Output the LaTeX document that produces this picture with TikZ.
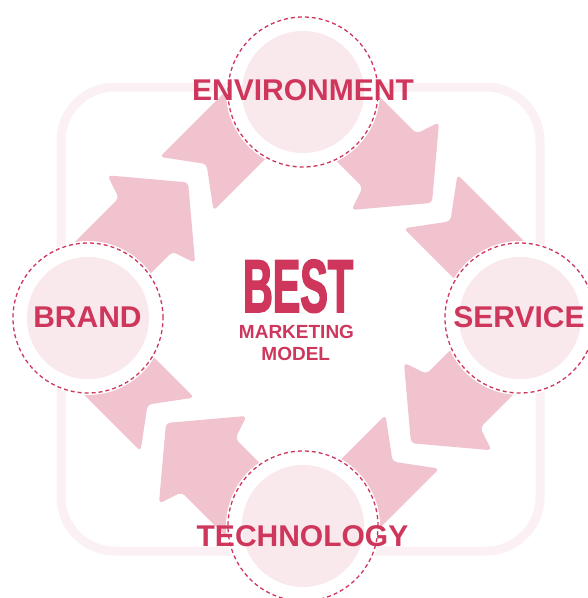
\documentclass[tikz,border=0pt]{standalone}
\usepackage{fontspec}
\setmainfont{Liberation Sans}
\newfontfamily\bestfont{Liberation Sans}[FakeStretch=0.55,FakeBold=2]
\definecolor{crimson}{HTML}{CE365C}
\definecolor{arrowpink}{HTML}{F0C3CE}
\definecolor{discpink}{HTML}{F9E8EC}
\definecolor{framepink}{HTML}{FBF0F3}

\begin{document}
\begin{tikzpicture}[x=1pt,y=1pt]
\tikzset{ inner sep=0pt, outer sep=0pt,
  arw/.style={fill=arrowpink, rounded corners=4pt},
  hub/.style={circle, minimum size=150pt, fill=white, draw=crimson, line width=1.3pt,
              dash pattern=on 4pt off 3pt, preaction={draw=white, solid, line width=4pt}},
  disc/.style={circle, minimum size=122pt, fill=discpink},
  lbl/.style={text=crimson, font=\bfseries\fontsize{30}{30}\selectfont, anchor=base},
  sub/.style={text=crimson, font=\bfseries\fontsize{19}{19}\selectfont, anchor=base,
              text height=13.6pt, text depth=0pt},
}

\useasboundingbox (0,0) rectangle (588,-598);

%\draw [lightgray, dashed](0,0) grid (588,-598);

% frame
\draw [framepink, line width=9pt, rounded corners=54pt] (61,-87) rectangle (540,-551);

% arrow tips
\coordinate (tip1) at (188.1,-182.4);
\coordinate (tip2) at (432.0,-202.9);
\coordinate (tip3) at (411.0,-443.2);
\coordinate (tip4) at (166.0,-423.0);

% brand -> environment
\fill [arw, shift={(tip1)}, rotate=45] (0,0) -- (-52,62) -- (-60,38) -- (-165,38) -- (-165,-38) -- (-60,-38) -- (-52,-62) -- cycle;
\fill [arw, shift={(tip1)}, rotate=45, xshift=-2pt] (0,38) -- (28,0) -- (0,-38) -- (147,-38) -- (147,38) -- cycle;

% environment -> service
\fill [arw, shift={(tip2)}, rotate=-45] (0,0) -- (-52,62) -- (-60,38) -- (-170,38) -- (-170,-38) -- (-60,-38) -- (-52,-62) -- cycle;
\fill [arw, shift={(tip2)}, rotate=-45, xshift=-2pt] (0,38) -- (28,0) -- (0,-38) -- (146,-38) -- (146,38) -- cycle;

% service -> technology
\fill [arw, shift={(tip3)}, rotate=-135] (0,0) -- (-52,62) -- (-60,38) -- (-166,38) -- (-166,-38) -- (-60,-38) -- (-52,-62) -- cycle;
\fill [arw, shift={(tip3)}, rotate=-135, xshift=-2pt] (0,38) -- (28,0) -- (0,-38) -- (137,-38) -- (137,38) -- cycle;

% technology -> brand
\fill [arw, shift={(tip4)}, rotate=135] (0,0) -- (-52,62) -- (-60,38) -- (-170,38) -- (-170,-38) -- (-60,-38) -- (-52,-62) -- cycle;
\fill [arw, shift={(tip4)}, rotate=135, xshift=-2pt] (0,38) -- (28,0) -- (0,-38) -- (131,-38) -- (131,38) -- cycle;

% circles
\node [hub] (envhub)  at (303,-92)  {};
\node [hub] (serhub)  at (520,-318) {};
\node [hub] (techhub) at (303,-526) {};
\node [hub] (brhub)   at (88,-318)  {};

\node [disc] (env)  at (envhub)  {};
\node [disc] (ser)  at (serhub)  {};
\node [disc] (tech) at (techhub) {};
\node [disc] (br)   at (brhub)   {};

% labels
\node [lbl] (envtext)  at (303,-100)   {ENVIRONMENT};
\node [lbl] (sertext)  at (519,-327)   {SERVICE};
\node [lbl] (techtext) at (302.5,-546) {TECHNOLOGY};
\node [lbl] (brtext)   at (87.5,-327)  {BRAND};

% centre
\node [text=crimson, anchor=base, text depth=0pt, font=\bestfont\bfseries\fontsize{75}{75}\selectfont] (best) at (298,-312) {BEST};
\node [sub] (marketing) at (296.5,-338.3) {MARKETING};
\node [sub] (model)     at (295.8,-360)   {MODEL};

\end{tikzpicture}
\end{document}
